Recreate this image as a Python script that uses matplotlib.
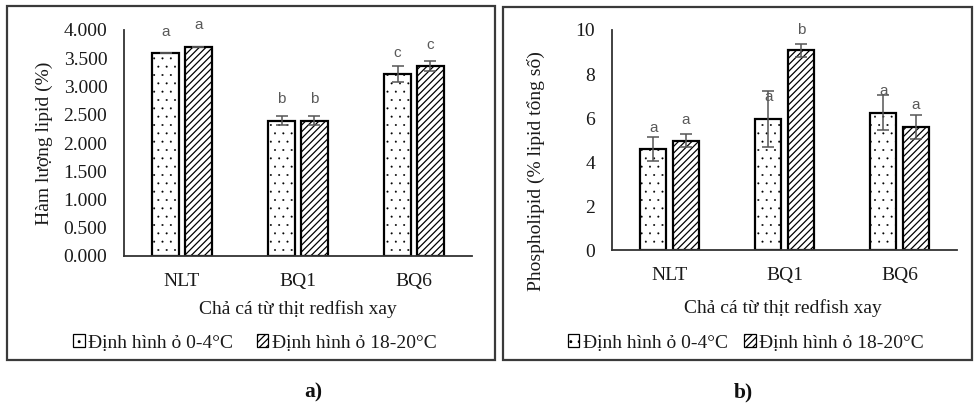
import matplotlib
matplotlib.use("Agg")
import matplotlib.pyplot as plt
import numpy as np
from matplotlib.patches import Rectangle

# ---- data ----
categories = ["NLT", "BQ1", "BQ6"]
series_names = ["Định hình ỏ 0-4°C", "Định hình ỏ 18-20°C"]

lipid_cold = [3.60, 2.39, 3.22]
lipid_warm = [3.70, 2.39, 3.36]
lipid_cold_err = [0.0, 0.08, 0.14]
lipid_warm_err = [0.0, 0.08, 0.09]
lipid_cold_letters = ["a", "b", "c"]
lipid_warm_letters = ["a", "b", "c"]
lipid_cold_letter_y = [3.96, 2.78, 3.59]
lipid_warm_letter_y = [4.09, 2.78, 3.73]

phos_cold = [4.60, 5.97, 6.25]
phos_warm = [4.98, 9.07, 5.59]
phos_cold_err = [0.55, 1.28, 0.81]
phos_warm_err = [0.30, 0.30, 0.56]
phos_cold_letters = ["a", "a", "a"]
phos_warm_letters = ["a", "b", "a"]
phos_cold_letter_y = [5.57, 6.94, 7.25]
phos_warm_letter_y = [5.92, 10.01, 6.60]

lipid_ticks = [0, 0.5, 1.0, 1.5, 2.0, 2.5, 3.0, 3.5, 4.0]
phos_ticks = [0, 2, 4, 6, 8, 10]

ylabel_a = "Hàm lượng lipid (%)"
ylabel_b = "Phospholipid (% lipid tổng số)"
xlabel = "Chả cá từ thịt redfish xay"

SERIF = ["Liberation Serif", "DejaVu Serif"]
SANS = ["Liberation Sans", "DejaVu Sans"]
plt.rcParams["font.family"] = SERIF

W, H = 974, 409
fig = plt.figure(figsize=(W / 100, H / 100), dpi=100)


def px_axes(x0, x1, ytop, ybot):
    return fig.add_axes([x0 / W, (H - ybot) / H, (x1 - x0) / W, (ybot - ytop) / H])


def frame(x0, x1, ytop, ybot):
    fig.patches.append(Rectangle((x0 / W, (H - ybot) / H), (x1 - x0) / W, (ybot - ytop) / H,
                                 transform=fig.transFigure, fill=False,
                                 edgecolor="#3a3a3a", linewidth=1.6))


frame(7, 495, 6, 360)
frame(503, 972, 7, 360)

FS = 14
TXT = "#1a1a1a"
bw = 0.23
off = 0.142


def draw(ax, cold, warm, cerr, werr, cl, wl, cly, wly, ticks, ymax, fmt, ylabel, ylab_pos, xlab_pos):
    x = np.arange(len(categories))
    plt.rcParams["hatch.linewidth"] = 0.2
    b1 = ax.bar(x - off, cold, bw, color="white", edgecolor="black", linewidth=1.6,
                hatch="..", label=series_names[0], zorder=2)
    plt.rcParams["hatch.linewidth"] = 0.9
    b2 = ax.bar(x + off, warm, bw, color="white", edgecolor="black", linewidth=1.6,
                hatch="/////", label=series_names[1], zorder=2)
    for p in b1.patches:
        if hasattr(p, "set_hatch_linewidth"):
            p.set_hatch_linewidth(0.2)
    ax.errorbar(x - off, cold, yerr=cerr, fmt="none", ecolor="#555555", elinewidth=1.1,
                capsize=4, capthick=1.1, zorder=3)
    ax.errorbar(x + off, warm, yerr=werr, fmt="none", ecolor="#555555", elinewidth=1.1,
                capsize=4, capthick=1.1, zorder=3)
    for i in range(len(categories)):
        ax.text(x[i] - off, cly[i], cl[i], ha="center", va="center", fontsize=11,
                color="#595959", family=SANS, zorder=4)
        ax.text(x[i] + off, wly[i], wl[i], ha="center", va="center", fontsize=11,
                color="#595959", family=SANS, zorder=4)
    ax.set_xlim(-0.5, 2.5)
    ax.set_ylim(0, ymax)
    ax.set_yticks(ticks)
    ax.set_yticklabels([fmt.format(t) for t in ticks])
    ax.set_xticks(x)
    ax.set_xticklabels(categories)
    ax.tick_params(axis="both", length=0, labelsize=FS, colors=TXT)
    ax.tick_params(axis="y", pad=12)
    ax.tick_params(axis="x", pad=12)
    for s in ["top", "right"]:
        ax.spines[s].set_visible(False)
    for s in ["left", "bottom"]:
        ax.spines[s].set_color("#333333")
        ax.spines[s].set_linewidth(1.3)
    ax.set_ylabel(ylabel, fontsize=FS, color=TXT)
    ax.yaxis.set_label_coords(*ylab_pos)
    ax.set_xlabel(xlabel, fontsize=FS, color=TXT)
    ax.xaxis.set_label_coords(*xlab_pos)
    ax.patch.set_visible(False)
    return b1, b2


axa = px_axes(124, 472, 30, 256)
h1, h2 = draw(axa, lipid_cold, lipid_warm, lipid_cold_err, lipid_warm_err,
              lipid_cold_letters, lipid_warm_letters, lipid_cold_letter_y, lipid_warm_letter_y,
              lipid_ticks, 4.0, "{:.3f}", ylabel_a, (-0.204, 0.5), (0.5, -0.195))

axb = px_axes(612, 957, 30, 250.3)
draw(axb, phos_cold, phos_warm, phos_cold_err, phos_warm_err,
     phos_cold_letters, phos_warm_letters, phos_cold_letter_y, phos_warm_letter_y,
     phos_ticks, 10, "{:.0f}", ylabel_b, (-0.194, 0.36), (0.496, -0.221))

for cx, cs in ((255, 1.2), (746, 0.8)):
    leg = fig.legend(handles=[h1, h2], labels=series_names, loc="center",
                     bbox_to_anchor=(cx / W, (H - 343) / H), ncol=2, frameon=False,
                     fontsize=FS, handlelength=0.6, handleheight=0.6,
                     handletextpad=0.2, columnspacing=cs, borderpad=0)
    for t in leg.get_texts():
        t.set_color(TXT)
    for p in leg.get_patches():
        p.set_linewidth(0.9)

fig.text(313 / W, (H - 392) / H, "a)", ha="center", va="center", fontsize=15.5,
         fontweight="bold", color="#111111")
fig.text(743 / W, (H - 392) / H, "b)", ha="center", va="center", fontsize=15.5,
         fontweight="bold", color="#111111")

fig.savefig("out.png", dpi=100)
